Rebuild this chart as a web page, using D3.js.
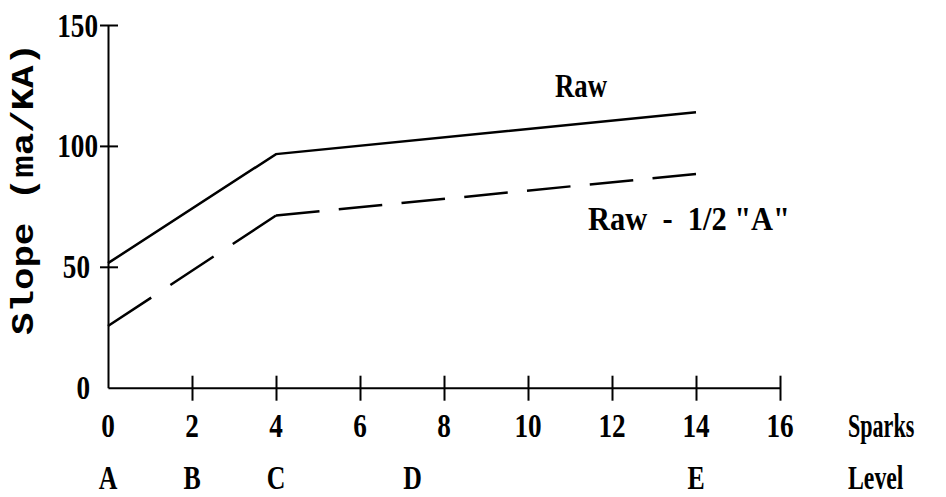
<!DOCTYPE html>
<html>
<head>
<meta charset="utf-8">
<script src="https://cdn.jsdelivr.net/npm/d3@7"></script>
<style>
  html, body { margin: 0; padding: 0; background: #fff; }
  svg { display: block; }
  .num { font-family: "Liberation Serif", serif; font-weight: bold; font-size: 34px; fill: #000; }
  .lbl { font-family: "Liberation Serif", serif; font-weight: bold; font-size: 34px; fill: #000; }
  .ytitle { font-family: "Liberation Mono", monospace; font-weight: bold; font-size: 31px; fill: #000; }
</style>
</head>
<body>
<svg id="chart" width="946" height="497"></svg>
<script>
// ---- data ----
const sparks = [0, 4, 14];
const raw = [51.5, 96.6, 113.9];
const rawHalfA = [25.5, 71.2, 88.4];
const xTickValues = [2, 4, 6, 8, 10, 12, 14, 16];
const xTickLabels = [0, 2, 4, 6, 8, 10, 12, 14, 16];
const yTickValues = [50, 100, 150];
const yTickLabels = [0, 50, 100, 150];
const levels = ["A", "B", "C", "D", "E"];
const levelSparks = [0, 2, 4, 7.25, 14];
const seriesNames = ["Raw", "Raw  -  1/2 \"A\""];

// ---- layout ----
const svg = d3.select("#chart");
const x = d3.scaleLinear().domain([0, 16]).range([108, 780]);
const y = d3.scaleLinear().domain([0, 150]).range([387.7, 25]);
const y0 = y(0);

// x axis
const gx = svg.append("g").attr("transform", `translate(0,${y0})`)
  .call(d3.axisBottom(x).tickValues(xTickValues).tickSize(13).tickSizeOuter(0).tickFormat(""));
gx.select(".domain").attr("stroke", "#000").attr("stroke-width", 2);
gx.selectAll(".tick line").attr("y1", -12).attr("stroke", "#000").attr("stroke-width", 2);

// y axis
const gy = svg.append("g").attr("transform", `translate(${x(0)},0)`)
  .call(d3.axisLeft(y).tickValues(yTickValues).tickSize(8).tickSizeOuter(0).tickFormat(""));
gy.select(".domain").attr("stroke", "#000").attr("stroke-width", 2);
gy.selectAll(".tick line").attr("x1", 10).attr("stroke", "#000").attr("stroke-width", 2);

// x tick labels
svg.append("g").selectAll("text").data(xTickLabels).join("text")
  .attr("class", "num")
  .attr("text-anchor", "middle")
  .attr("transform", d => `translate(${x(d)},437) scale(0.8,1)`)
  .text(d => d);

// y tick labels
svg.append("g").selectAll("text").data(yTickLabels).join("text")
  .attr("class", "num")
  .attr("text-anchor", "end")
  .attr("transform", d => `translate(${String(d).length >= 3 ? 98 : 90},${y(d) + 11.5}) scale(0.8,1)`)
  .text(d => d);

// level letters
svg.append("g").selectAll("text").data(levels).join("text")
  .attr("class", "lbl")
  .attr("text-anchor", "middle")
  .attr("transform", (d, i) => `translate(${x(levelSparks[i])},489) scale(0.76,1)`)
  .text(d => d);

// row titles
svg.append("text").attr("class", "lbl")
  .attr("transform", "translate(848,437) scale(0.65,1)").text("Sparks");
svg.append("text").attr("class", "lbl")
  .attr("transform", "translate(848,489) scale(0.7,1)").text("Level");

// y title
svg.append("text").attr("class", "ytitle")
  .attr("text-anchor", "middle")
  .attr("transform", "translate(33,189) rotate(-90)")
  .attr("textLength", 292).attr("lengthAdjust", "spacingAndGlyphs")
  .text("Slope (ma/KA)");

// lines
const line = d3.line().x(d => x(d[0])).y(d => y(d[1]));
const rawPts = sparks.map((s, i) => [s, raw[i]]);
const halfPts = sparks.map((s, i) => [s, rawHalfA[i]]);

svg.append("path").datum(rawPts).attr("d", line)
  .attr("fill", "none").attr("stroke", "#000").attr("stroke-width", 2.5)
  .attr("stroke-linejoin", "miter");

// dashed: pattern restarts at each vertex, dash length measured along x
const dashD = 44, dashG = 19.5;
for (let i = 0; i < halfPts.length - 1; i++) {
  const a = halfPts[i], b = halfPts[i + 1];
  const dx = x(b[0]) - x(a[0]);
  const dy = y(b[1]) - y(a[1]);
  const len = Math.hypot(dx, dy);
  const n = Math.max(1, Math.round((dx + dashG) / (dashD + dashG)));
  const k = dx / (n * dashD + (n - 1) * dashG) * len / dx;
  svg.append("path").datum([a, b]).attr("d", line)
    .attr("fill", "none").attr("stroke", "#000").attr("stroke-width", 2.5)
    .attr("stroke-dasharray", `${dashD * k},${dashG * k}`);
}

// series labels
svg.append("text").attr("class", "lbl").attr("x", 555).attr("y", 97)
  .attr("textLength", 52).attr("lengthAdjust", "spacingAndGlyphs").text(seriesNames[0]);
svg.append("text").attr("class", "lbl").attr("x", 588).attr("y", 230)
  .attr("textLength", 202).attr("lengthAdjust", "spacingAndGlyphs")
  .attr("xml:space", "preserve").style("white-space", "pre").text(seriesNames[1]);
</script>
</body>
</html>
